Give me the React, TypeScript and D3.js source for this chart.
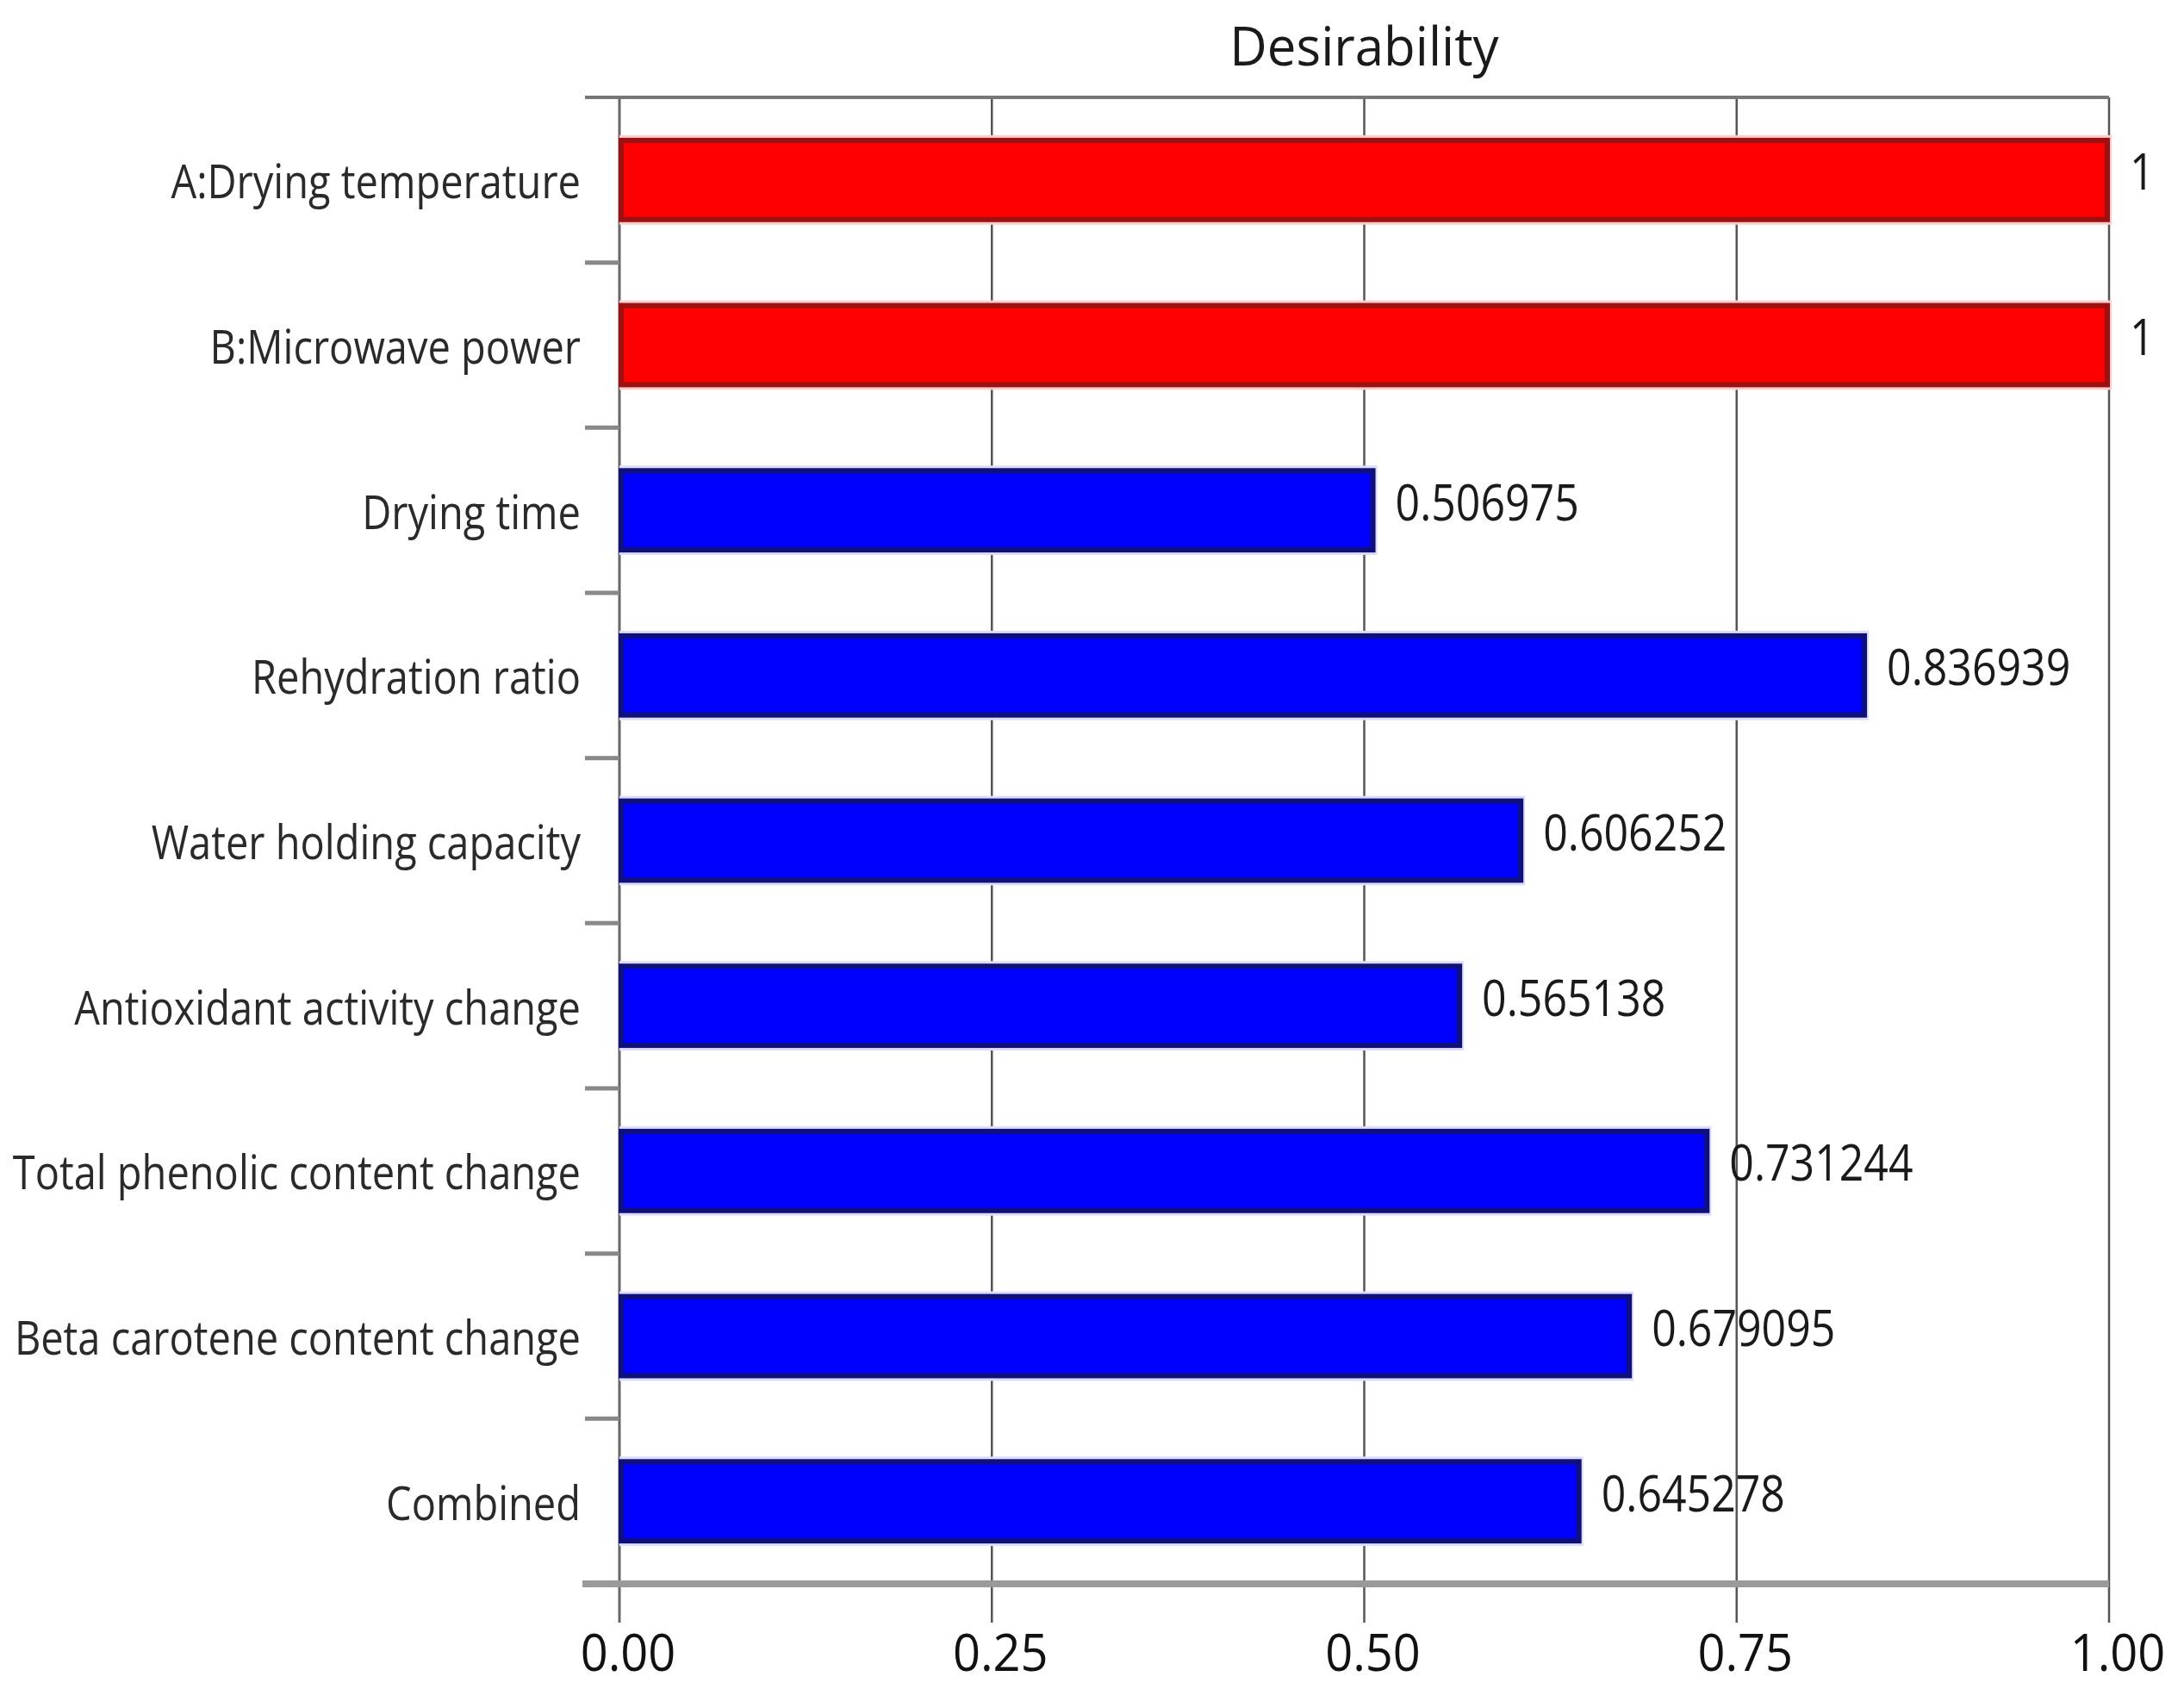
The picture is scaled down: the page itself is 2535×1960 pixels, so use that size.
import * as d3 from "d3";
import { useEffect, useRef } from "react";

const categories = [
  "A:Drying temperature",
  "B:Microwave power",
  "Drying time",
  "Rehydration ratio",
  "Water holding capacity",
  "Antioxidant activity change",
  "Total phenolic content change",
  "Beta carotene content change",
  "Combined",
];
const values = [1, 1, 0.506975, 0.836939, 0.606252, 0.565138, 0.731244, 0.679095, 0.645278];
const valueLabels = ["1", "1", "0.506975", "0.836939", "0.606252", "0.565138", "0.731244", "0.679095", "0.645278"];
const isFactor = [true, true, false, false, false, false, false, false, false];
const xTicks = [0, 0.25, 0.5, 0.75, 1];

const FONT = "'Open Sans', 'Noto Sans', sans-serif";
// the source screenshot is stretched a little vertically, so text gets a y-scale
const STRETCH = 1.17;

const App = () => {
  const ref = useRef<SVGSVGElement>(null);
  useEffect(() => {
    const width = 2535,
      height = 1960;
    const margin = { top: 113, right: 87, bottom: 122, left: 719 };

    const svg = d3.select(ref.current);
    svg.selectAll("*").remove();

    const x = d3.scaleLinear().domain([0, 1]).range([margin.left, width - margin.right]);
    const y = d3
      .scaleBand()
      .domain(categories)
      .range([margin.top, height - margin.bottom])
      .paddingInner(0.5)
      .paddingOuter(0.25);
    const step = y.step();
    const yTop = margin.top;
    const yBottom = height - margin.bottom;

    // title
    svg
      .append("text")
      .attr("transform", `translate(${(x(0) + x(1)) / 2},76) scale(1,1.05)`)
      .attr("text-anchor", "middle")
      .style("font-family", FONT)
      .style("font-size", "60px")
      .style("fill", "#1a1a1a")
      .text("Desirability");

    // vertical grid lines, running down past the axis as ticks
    svg
      .append("g")
      .selectAll("line")
      .data(xTicks.slice(1))
      .join("line")
      .attr("x1", (d) => x(d))
      .attr("x2", (d) => x(d))
      .attr("y1", yTop)
      .attr("y2", yBottom + 45)
      .attr("stroke", "#555")
      .attr("stroke-width", 2.5);

    // left axis line with category ticks
    svg
      .append("line")
      .attr("x1", x(0))
      .attr("x2", x(0))
      .attr("y1", yTop)
      .attr("y2", yBottom + 45)
      .attr("stroke", "#666")
      .attr("stroke-width", 3);

    const bounds = d3.range(categories.length + 1).map((i) => yTop + i * step);
    svg
      .append("g")
      .selectAll("line")
      .data(bounds.slice(1, -1))
      .join("line")
      .attr("x1", x(0) - 40)
      .attr("x2", x(0))
      .attr("y1", (d) => d)
      .attr("y2", (d) => d)
      .attr("stroke", "#888")
      .attr("stroke-width", 5);

    // top frame line
    svg
      .append("line")
      .attr("x1", x(0) - 40)
      .attr("x2", x(1))
      .attr("y1", yTop)
      .attr("y2", yTop)
      .attr("stroke", "#777")
      .attr("stroke-width", 4);

    // bars
    const bars = svg.append("g");
    bars
      .selectAll("rect.halo")
      .data(categories)
      .join("rect")
      .attr("class", "halo")
      .attr("x", x(0))
      .attr("y", (d) => y(d)! - 4)
      .attr("width", (d, i) => x(values[i]) - x(0) + 3)
      .attr("height", y.bandwidth() + 8)
      .attr("fill", (d, i) => (isFactor[i] ? "#ffcccc" : "#dcdcff"));
    bars
      .selectAll("rect.bar")
      .data(categories)
      .join("rect")
      .attr("class", "bar")
      .attr("x", x(0) + 2)
      .attr("y", (d) => y(d)! + 2)
      .attr("width", (d, i) => x(values[i]) - x(0) - 4)
      .attr("height", y.bandwidth() - 4)
      .attr("fill", (d, i) => (isFactor[i] ? "#ff0000" : "#0000ff"))
      .attr("stroke", (d, i) => (isFactor[i] ? "#9b1010" : "#10107a"))
      .attr("stroke-width", 6);

    // value labels
    svg
      .append("g")
      .selectAll("text")
      .data(categories)
      .join("text")
      .attr(
        "transform",
        (d, i) => `translate(${x(values[i]) + 24},${y(d)! + y.bandwidth() / 2 - 11}) scale(1,${STRETCH})`
      )
      .attr("dominant-baseline", "central")
      .style("font-family", FONT)
      .style("font-size", "50px")
      .style("fill", "#1a1a1a")
      .text((d, i) => valueLabels[i]);

    // category labels
    svg
      .append("g")
      .selectAll("text")
      .data(categories)
      .join("text")
      .attr("transform", (d) => `translate(${x(0) - 45},${y(d)! + y.bandwidth() / 2}) scale(1,${STRETCH})`)
      .attr("text-anchor", "end")
      .attr("dominant-baseline", "central")
      .style("font-family", FONT)
      .style("font-size", "47px")
      .style("fill", "#2a2a2a")
      .text((d) => d);

    // bottom axis
    svg
      .append("line")
      .attr("x1", x(0) - 43)
      .attr("x2", x(1))
      .attr("y1", yBottom)
      .attr("y2", yBottom)
      .attr("stroke", "#9a9a9a")
      .attr("stroke-width", 8);

    svg
      .append("g")
      .selectAll("text")
      .data(xTicks)
      .join("text")
      .attr("transform", (d) => `translate(${x(d) + 10},${yBottom + 78}) scale(1,1.08)`)
      .attr("text-anchor", "middle")
      .attr("dominant-baseline", "central")
      .style("font-family", FONT)
      .style("font-size", "56px")
      .style("fill", "#111")
      .text((d) => d3.format(".2f")(d));
  }, []);

  return (
    <svg
      ref={ref}
      width={2535}
      height={1960}
      style={{ position: "absolute", left: 0, top: 0, background: "#fff" }}
    />
  );
};

export default App;
